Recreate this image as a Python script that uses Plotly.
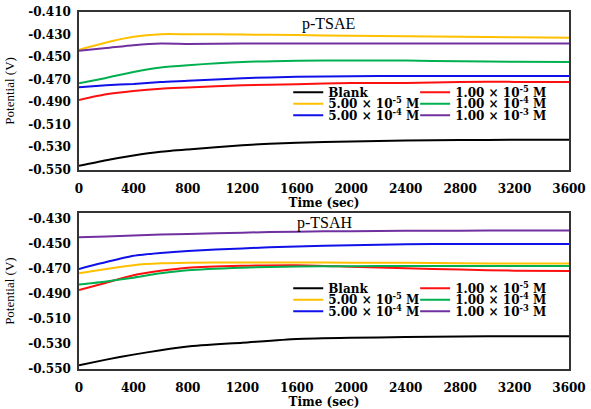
import plotly.graph_objects as go

# ---------------- data ----------------
time_s = [0, 200, 400, 600, 800, 1200, 1600, 2000, 2400, 2800, 3200, 3600]

series_names = ["Blank", "1.00 × 10<sup>-5</sup> M", "5.00 × 10<sup>-5</sup> M",
                "1.00 × 10<sup>-4</sup> M", "5.00 × 10<sup>-4</sup> M", "1.00 × 10<sup>-3</sup> M"]
series_colors = ["#000000", "#FF1010", "#FFC000", "#00B050", "#1010E8", "#7030A0"]

# p-TSAE
tsae_blank = [-0.5465, -0.5415, -0.5373, -0.534, -0.5319, -0.5282, -0.5259, -0.5248, -0.524, -0.5236, -0.5234, -0.5233]
tsae_1e5 = [-0.488, -0.483, -0.480, -0.478, -0.477, -0.475, -0.474, -0.473, -0.473, -0.472, -0.472, -0.472]
tsae_5e5 = [-0.4435, -0.437, -0.432, -0.4297, -0.4297, -0.430, -0.4305, -0.431, -0.4315, -0.432, -0.4325, -0.4329]
tsae_1e4 = [-0.4733, -0.4685, -0.4632, -0.4592, -0.4572, -0.4544, -0.4532, -0.453, -0.453, -0.4538, -0.4542, -0.4544]
tsae_5e4 = [-0.4767, -0.475, -0.4738, -0.472, -0.471, -0.4687, -0.4675, -0.467, -0.4667, -0.4667, -0.4667, -0.4667]
tsae_1e3 = [-0.4443, -0.442, -0.4395, -0.438, -0.4383, -0.438, -0.438, -0.438, -0.438, -0.438, -0.438, -0.4379]

# p-TSAH
tsah_blank = [-0.547, -0.5425, -0.5385, -0.535, -0.532, -0.529, -0.526, -0.525, -0.5245, -0.524, -0.5238, -0.5238]
tsah_1e5 = [-0.4868, -0.481, -0.475, -0.4715, -0.469, -0.4675, -0.467, -0.4682, -0.4695, -0.4705, -0.4714, -0.4716]
tsah_5e5 = [-0.4734, -0.470, -0.467, -0.4655, -0.465, -0.4648, -0.4648, -0.465, -0.465, -0.4655, -0.4657, -0.4657]
tsah_1e4 = [-0.4825, -0.480, -0.477, -0.4735, -0.471, -0.469, -0.468, -0.4678, -0.4677, -0.4677, -0.4677, -0.4677]
tsah_5e4 = [-0.470, -0.4645, -0.4595, -0.4572, -0.4556, -0.4536, -0.452, -0.451, -0.4503, -0.450, -0.450, -0.450]
tsah_1e3 = [-0.4447, -0.444, -0.4432, -0.4425, -0.442, -0.441, -0.4402, -0.4398, -0.4395, -0.4394, -0.4393, -0.4393]

x_ticks = [0, 400, 800, 1200, 1600, 2000, 2400, 2800, 3200, 3600]
top_yticks = [-0.550, -0.530, -0.510, -0.490, -0.470, -0.450, -0.430, -0.410]
bot_yticks = [-0.550, -0.530, -0.510, -0.490, -0.470, -0.450, -0.430]

panels = [
    ("x", "y", [tsae_blank, tsae_1e5, tsae_5e5, tsae_1e4, tsae_5e4, tsae_1e3]),
    ("x2", "y2", [tsah_blank, tsah_1e5, tsah_5e5, tsah_1e4, tsah_5e4, tsah_1e3]),
]

# legend placement (paper coords): column x, row y per panel
leg_cols = [0.427, 0.686]
leg_rows = [[0.775, 0.743, 0.711], [0.226, 0.194, 0.162]]

fig = go.Figure()
layout_legends = {}
leg_idx = 0
for p, (xa, ya, data) in enumerate(panels):
    for i, (name, color, vals) in enumerate(zip(series_names, series_colors, data)):
        leg_idx += 1
        lid = "legend" if leg_idx == 1 else f"legend{leg_idx}"
        row, col = divmod(i, 2)
        fig.add_trace(go.Scatter(
            x=time_s, y=vals, mode="lines", name=f"<b>{name}</b>",
            line=dict(color=color, width=2, shape="spline", smoothing=0.6),
            xaxis=xa, yaxis=ya, legend=lid, showlegend=True))
        layout_legends[lid] = dict(
            x=leg_cols[col], y=leg_rows[p][row], xanchor="left", yanchor="middle",
            bgcolor="rgba(0,0,0,0)", borderwidth=0, itemwidth=30,
            font=dict(family="DejaVu Serif", size=12, color="#000000"),
            tracegroupgap=0)

axis_font = dict(family="DejaVu Serif", size=12, color="#000000")
title_font_y = dict(family="Liberation Serif", size=13, color="#000000")
title_font_x = dict(family="DejaVu Serif", size=12, color="#000000")

common_x = dict(range=[0, 3600], tickvals=x_ticks, ticktext=[f"<b>{v}</b>" for v in x_ticks],
                showgrid=False, zeroline=False, showline=True, linecolor="#333333",
                linewidth=1.5, mirror=True, ticks="", tickfont=axis_font, ticklabelstandoff=7)
common_y = dict(showgrid=False, zeroline=False, showline=True, linecolor="#333333",
                linewidth=1.5, mirror=True, ticks="", tickfont=axis_font, ticklabelstandoff=4)

fig.update_layout(
    width=591, height=409,
    margin=dict(l=79, r=18, t=5, b=35),
    paper_bgcolor="white", plot_bgcolor="white",
    xaxis=dict(**common_x, anchor="y", domain=[0, 1],
               title=dict(text="<b>Time (sec)</b>", font=title_font_x, standoff=0)),
    yaxis=dict(**common_y, anchor="x", domain=[0.558, 1], range=[-0.550, -0.410],
               tickvals=top_yticks, ticktext=[f"<b>{v:.3f}</b>" for v in top_yticks],
               title=dict(text="Potential (V)", font=title_font_y, standoff=11)),
    xaxis2=dict(**common_x, anchor="y2", domain=[0, 1],
                title=dict(text="<b>Time (sec)</b>", font=title_font_x, standoff=0)),
    yaxis2=dict(**common_y, anchor="x2", domain=[0, 0.4363], range=[-0.550, -0.4255],
                tickvals=bot_yticks, ticktext=[f"<b>{v:.3f}</b>" for v in bot_yticks],
                title=dict(text="Potential (V)", font=title_font_y, standoff=11)),
    annotations=[
        dict(text="p-TSAE", x=0.451, y=0.9675, xref="paper", yref="paper", xanchor="left",
             yanchor="middle", showarrow=False,
             font=dict(family="Liberation Serif", size=16, color="#000000")),
        dict(text="p-TSAH", x=0.441, y=0.409, xref="paper", yref="paper", xanchor="left",
             yanchor="middle", showarrow=False,
             font=dict(family="Liberation Serif", size=16, color="#000000")),
    ],
    **layout_legends,
)

fig.write_html("out.html", config={"displayModeBar": False},
               post_script="document.body.style.margin='0px';")
